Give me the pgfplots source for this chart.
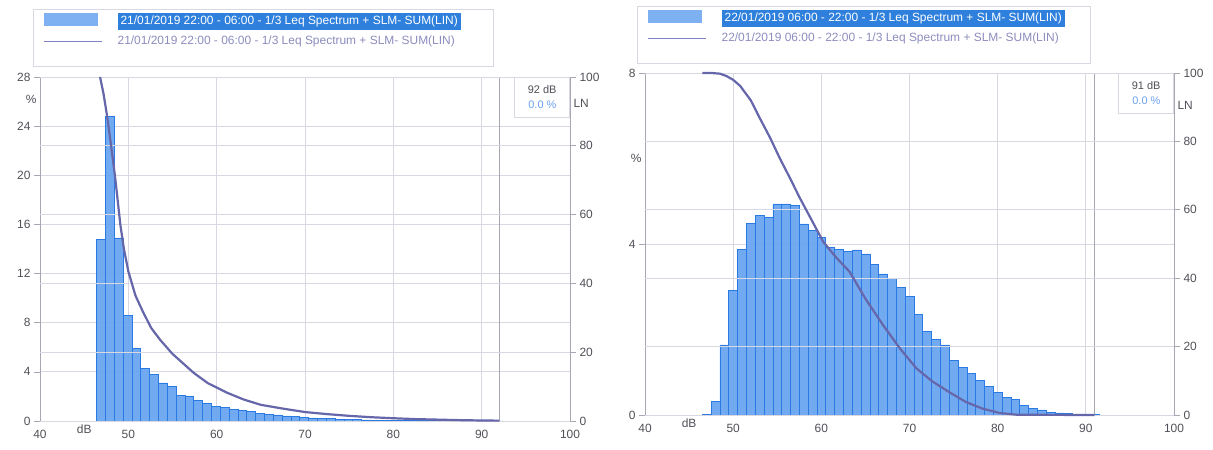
\documentclass[border=0pt]{standalone}
\usepackage{fontspec}
\setmainfont{Liberation Sans}
\usepackage{pgfplots}
\pgfplotsset{compat=1.18}
\definecolor{gridc}{HTML}{D8D8E2}
\definecolor{axc}{HTML}{A8A8B4}
\definecolor{barf}{HTML}{66A3F0}
\definecolor{bare}{HTML}{2A7AE4}
\definecolor{curvec}{HTML}{6666AA}
\definecolor{legline}{HTML}{8282C4}
\definecolor{legtxt}{HTML}{8C8CBE}
\definecolor{selbg}{HTML}{2F80DC}
\definecolor{infob}{HTML}{6AA2EE}
\definecolor{labc}{HTML}{505058}
\pgfplotsset{
  common/.style={
    scale only axis, anchor=south west,
    xmin=40, xmax=100,
    /pgf/number format/assume math mode=true,
    ticklabel style={font=\fontsize{12}{12}\selectfont, text=labc},
    tick style={draw=axc, line width=0.6bp},
    major tick length=6bp,
    tick align=outside,
    axis line style={draw=axc, line width=0.8bp},
    grid style={draw=gridc, line width=0.8bp},
    extra tick style={grid=none, major tick length=0pt},
  },
  legbox/.style={
    legend style={draw=none, fill=none,
      font=\fontsize{12}{14}\selectfont, anchor=north west,
      inner xsep=10bp, inner ysep=3bp, column sep=14bp, row sep=8bp,
      nodes={inner sep=1bp}},
    legend cell align=left,
  },
}
\tikzset{
  infobox/.style={draw=gridc, line width=0.8bp, fill=white, anchor=north east,
    minimum width=55bp, minimum height=40bp, align=right, inner xsep=7bp,
    font=\fontsize{11}{15}\selectfont, text=labc},
}
\begin{document}
\begin{tikzpicture}
\useasboundingbox (0,0) rectangle (1213bp,450bp);
% ===== LEFT CHART =====
\begin{axis}[common, at={(40bp,29bp)}, width=530bp, height=344bp,
  axis y line*=left, axis x line*=bottom,
  ymin=0, ymax=28, ytick={0,4,...,28},
  xtick={40,50,...,100}, xmajorgrids, ymajorgrids,
  xtick style={draw=none},
  extra x ticks={45}, extra x tick labels={dB},
  extra y ticks={26.2}, extra y tick labels={\%},
]
\addplot[ybar interval, fill=barf, draw=bare, line width=0.6bp, fill opacity=0.92] table {
x y
46.4 14.8
47.4 24.8
48.4 14.9
49.4 8.6
50.4 5.9
51.4 4.3
52.4 3.8
53.4 3.1
54.4 2.8
55.4 2.1
56.4 2.0
57.4 1.7
58.4 1.4
59.4 1.2
60.4 1.1
61.4 0.95
62.4 0.85
63.4 0.75
64.4 0.65
65.4 0.55
66.4 0.5
67.4 0.42
68.4 0.36
69.4 0.3
70.4 0.26
71.4 0.22
72.4 0.19
73.4 0.16
74.4 0.13
75.4 0.11
76.4 0.09
77.4 0.08
78.4 0.07
79.4 0.06
80.4 0.05
81.4 0.04
82.4 0.04
83.4 0.03
84.4 0.03
85.4 0.02
86.4 0.02
87.4 0.02
88.4 0.01
89.4 0.01
90.4 0.01
91.4 0.01
92.4 0.01
};
\addplot[draw=axc, line width=0.7bp] coordinates {(92,0) (92,28)};
\node[infobox] at (rel axis cs:1,1) {92 dB\\\textcolor{infob}{0.0 \%}};
\end{axis}
\begin{axis}[common, legbox, at={(40bp,29bp)}, width=530bp, height=344bp,
  axis y line*=right, axis x line=none, clip=false,
  ymin=0, ymax=100, ytick={0,20,...,100}, ymajorgrids,
  extra y ticks={92.4}, extra y tick labels={LN},
  legend style={at={(-0.0132,1.1977)}},
]
\draw[gridc, line width=0.8bp] (rel axis cs:-0.0132,1.1977) rectangle (rel axis cs:0.8547,1.032);
\addlegendimage{legend image code/.code={\draw[fill=barf!85, draw=bare!60, line width=0.6bp] (0bp,-6bp) rectangle (53bp,6bp);}}
\addlegendentry{\colorbox{selbg}{\textcolor{white}{21/01/2019 22:00 - 06:00 - 1/3 Leq Spectrum + SLM- SUM(LIN)}}}
\addplot[curvec, line width=2.2bp, legend image code/.code={\draw[legline, line width=1.4bp] (0bp,0bp) -- (58bp,0bp);}] coordinates {
(46.8,100) (47.2,95) (47.6,88.6) (48.0,81) (48.5,71) (49.1,57) (49.5,50) (50,43.5)
(50.8,36.5) (51.7,31.5) (52.6,27) (53.6,23.6) (55,19.5) (57.4,14) (59,11) (61.2,8.2)
(63,6.3) (65,4.7) (67.5,3.6) (70,2.6) (72.5,2.0) (75,1.5) (77.5,1.1) (80,0.8)
(82.5,0.55) (85,0.4) (87.5,0.25) (90,0.15) (92,0.1)
};
\addlegendentry{\textcolor{legtxt}{21/01/2019 22:00 - 06:00 - 1/3 Leq Spectrum + SLM- SUM(LIN)}}
\end{axis}
% ===== RIGHT CHART =====
\begin{axis}[common, at={(645bp,35bp)}, width=529bp, height=342bp,
  axis y line*=left, axis x line*=bottom,
  ymin=0, ymax=8, ytick={0,4,8},
  xtick={40,50,...,100}, xmajorgrids, ymajorgrids,
  xtick style={draw=none},
  extra x ticks={45}, extra x tick labels={dB},
  extra y ticks={6.0}, extra y tick labels={\%},
]
\addplot[ybar interval, fill=barf, draw=bare, line width=0.6bp, fill opacity=0.92] table {
x y
46.5 0.02
47.5 0.31
48.5 1.64
49.5 2.92
50.5 3.88
51.5 4.49
52.5 4.66
53.5 4.62
54.5 4.94
55.5 4.94
56.5 4.90
57.5 4.47
58.5 4.31
59.5 4.16
60.5 3.92
61.5 3.88
62.5 3.82
63.5 3.86
64.5 3.77
65.5 3.53
66.5 3.30
67.5 3.20
68.5 2.99
69.5 2.78
70.5 2.36
71.5 1.95
72.5 1.76
73.5 1.64
74.5 1.27
75.5 1.12
76.5 0.98
77.5 0.80
78.5 0.67
79.5 0.53
80.5 0.41
81.5 0.37
82.5 0.23
83.5 0.16
84.5 0.12
85.5 0.07
86.5 0.05
87.5 0.03
88.5 0.02
89.5 0.01
90.5 0.01
91.5 0.01
};
\addplot[draw=axc, line width=0.7bp] coordinates {(91,0) (91,8)};
\node[infobox] at (rel axis cs:1,1) {91 dB\\\textcolor{infob}{0.0 \%}};
\end{axis}
\begin{axis}[common, legbox, at={(645bp,35bp)}, width=529bp, height=342bp,
  axis y line*=right, axis x line=none, clip=false,
  ymin=0, ymax=100, ytick={0,20,...,100}, ymajorgrids,
  extra y ticks={90.6}, extra y tick labels={LN},
  legend style={at={(-0.0151,1.196)}},
]
\draw[gridc, line width=0.8bp] (rel axis cs:-0.0151,1.196) rectangle (rel axis cs:0.8412,1.029);
\addlegendimage{legend image code/.code={\draw[fill=barf!85, draw=bare!60, line width=0.6bp] (0bp,-6bp) rectangle (53bp,6bp);}}
\addlegendentry{\colorbox{selbg}{\textcolor{white}{22/01/2019 06:00 - 22:00 - 1/3 Leq Spectrum + SLM- SUM(LIN)}}}
\addplot[curvec, line width=2.2bp, legend image code/.code={\draw[legline, line width=1.4bp] (0bp,0bp) -- (58bp,0bp);}] coordinates {
(46.5,100) (47.55,100) (48.5,99.8) (49.25,99.1) (50,98) (50.8,96.2) (52,92) (53,86.9)
(54.2,81) (55.3,75) (56.4,69.5) (57.55,63.5) (58.9,57) (60.2,50.7) (61.7,46)
(63.2,41.9) (65,34) (67,26.3) (68.9,19.5) (70.8,13.6) (72.6,9.8) (74.5,6.7)
(76.4,3.8) (78.3,1.85) (80.2,0.6) (82.1,0.1) (85,0.05) (91,0)
};
\addlegendentry{\textcolor{legtxt}{22/01/2019 06:00 - 22:00 - 1/3 Leq Spectrum + SLM- SUM(LIN)}}
\end{axis}
\end{tikzpicture}
\end{document}
